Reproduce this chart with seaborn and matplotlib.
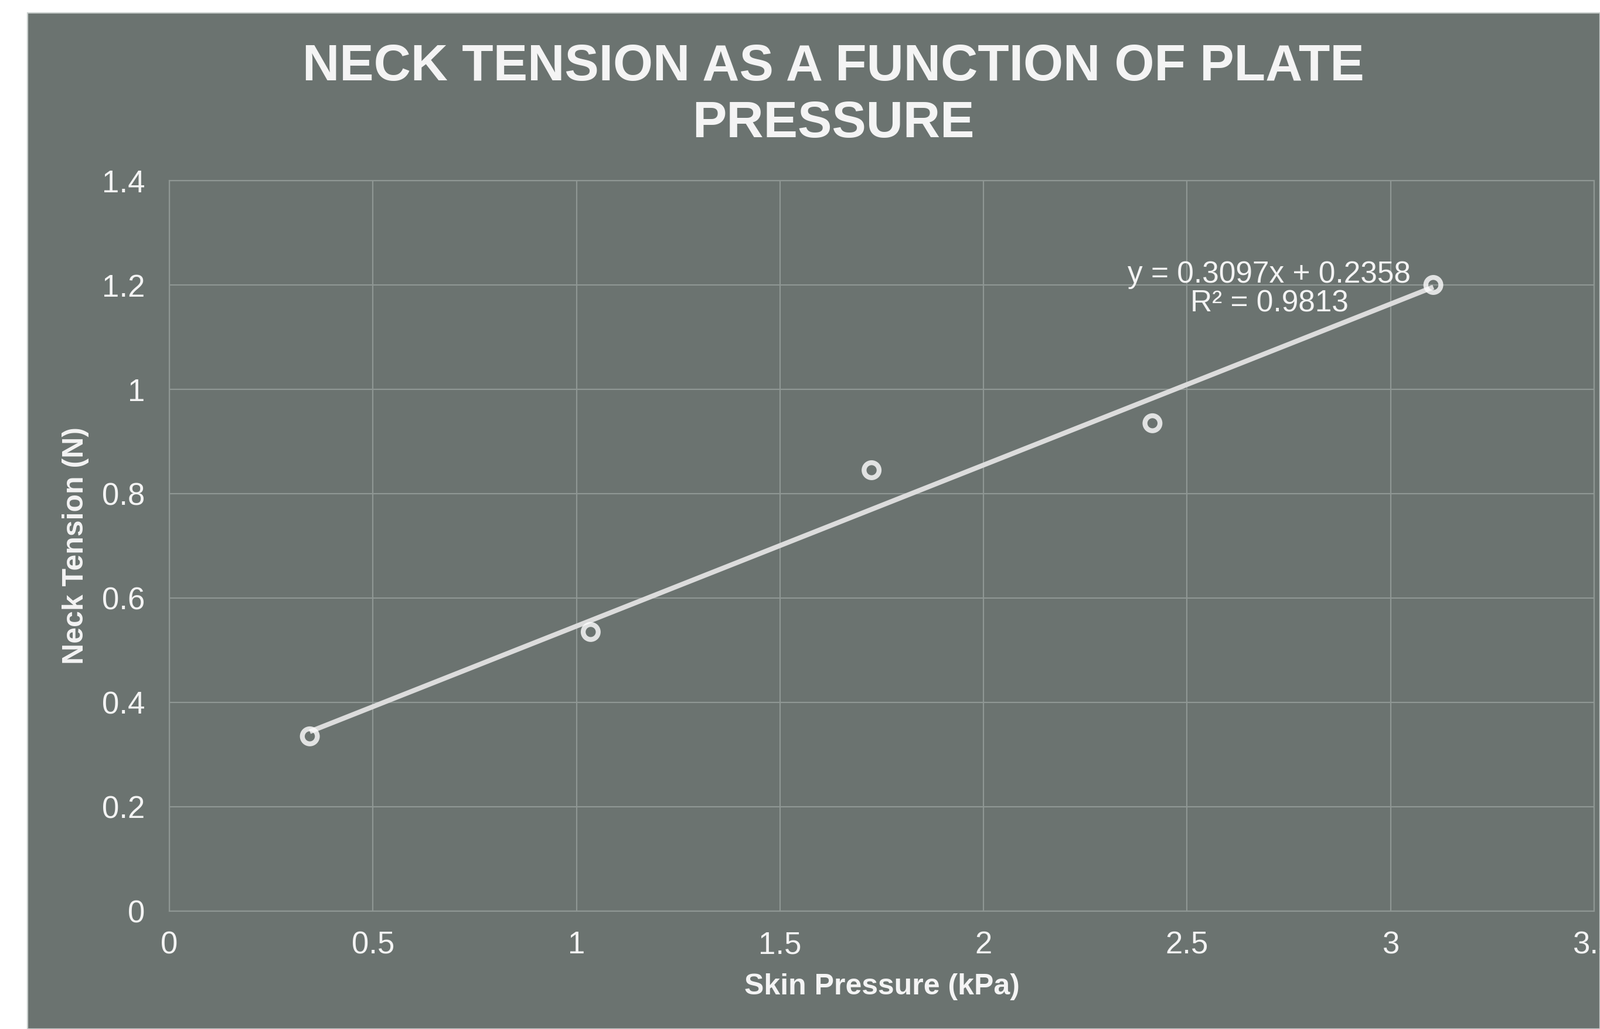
import matplotlib
matplotlib.use("Agg")
import matplotlib.pyplot as plt
import pandas as pd
import seaborn as sns
from matplotlib.patches import Rectangle

# --- Data ---
skin_pressure = [0.345, 1.035, 1.725, 2.415, 3.105]
neck_tension = [0.335, 0.535, 0.845, 0.935, 1.200]
x_ticks = [0, 0.5, 1, 1.5, 2, 2.5, 3, 3.5]
x_tick_labels = ["0", "0.5", "1", "1.5", "2", "2.5", "3", "3.5"]
y_ticks = [0, 0.2, 0.4, 0.6, 0.8, 1.0, 1.2, 1.4]
y_tick_labels = ["0", "0.2", "0.4", "0.6", "0.8", "1", "1.2", "1.4"]
trend_text = "y = 0.3097x + 0.2358\nR² = 0.9813"
title = "NECK TENSION AS A FUNCTION OF PLATE\nPRESSURE"

df = pd.DataFrame({"Skin Pressure (kPa)": skin_pressure,
                   "Neck Tension (N)": neck_tension})

BG = "#6b7370"
GRID = "#8f9794"
TXT = "#f4f4f4"

sns.set_theme(style="white")
plt.rcParams["font.family"] = ["Liberation Sans", "DejaVu Sans"]

fig = plt.figure(figsize=(13.65, 8.775), dpi=200, facecolor="white")
# gray chart panel (cropped at right / bottom like the reference)
fig.patches.append(Rectangle((47 / 2730, 0), 1 - 47 / 2730, 1 - 22 / 1755,
                             transform=fig.transFigure, facecolor=BG,
                             edgecolor="#c9cfcd", linewidth=0.8, zorder=-10))

ax = fig.add_axes([289 / 2730, 1 - 1554 / 1755, (2720 - 289) / 2730, (1554 - 308) / 1755])
ax.set_facecolor(BG)

sns.regplot(data=df, x="Skin Pressure (kPa)", y="Neck Tension (N)", ci=None, ax=ax,
            scatter_kws={"s": 85, "facecolors": "none", "edgecolors": "white",
                         "linewidths": 3.0, "zorder": 4},
            line_kws={"color": "#dcdcdc", "linewidth": 3.0, "zorder": 3,
                      "solid_capstyle": "butt"})

ax.set_xlim(0, 3.5)
ax.set_ylim(0, 1.4)
ax.set_xticks(x_ticks)
ax.set_xticklabels(x_tick_labels)
ax.set_yticks(y_ticks)
ax.set_yticklabels(y_tick_labels)
ax.grid(True, color=GRID, linewidth=0.8)
ax.set_axisbelow(True)
for s in ax.spines.values():
    s.set_color(GRID)
    s.set_linewidth(0.8)
ax.tick_params(axis="both", length=0, labelsize=19, colors=TXT)
ax.tick_params(axis="x", pad=12)
ax.tick_params(axis="y", pad=15)

ax.set_xlabel("Skin Pressure (kPa)", fontsize=18, fontweight="bold", color=TXT, labelpad=8)
ax.set_ylabel("Neck Tension (N)", fontsize=18, fontweight="bold", color=TXT, labelpad=8)

ax.text(2.702, 1.192, trend_text, ha="center", va="center", fontsize=18.5,
        color=TXT, linespacing=1.0)

fig.text(1422 / 2730, 1 - 163 / 1755, title, ha="center", va="center",
         fontsize=31.5, fontweight="bold", color=TXT, linespacing=1.24)

fig.savefig("out.png", dpi=200, facecolor=fig.get_facecolor())
